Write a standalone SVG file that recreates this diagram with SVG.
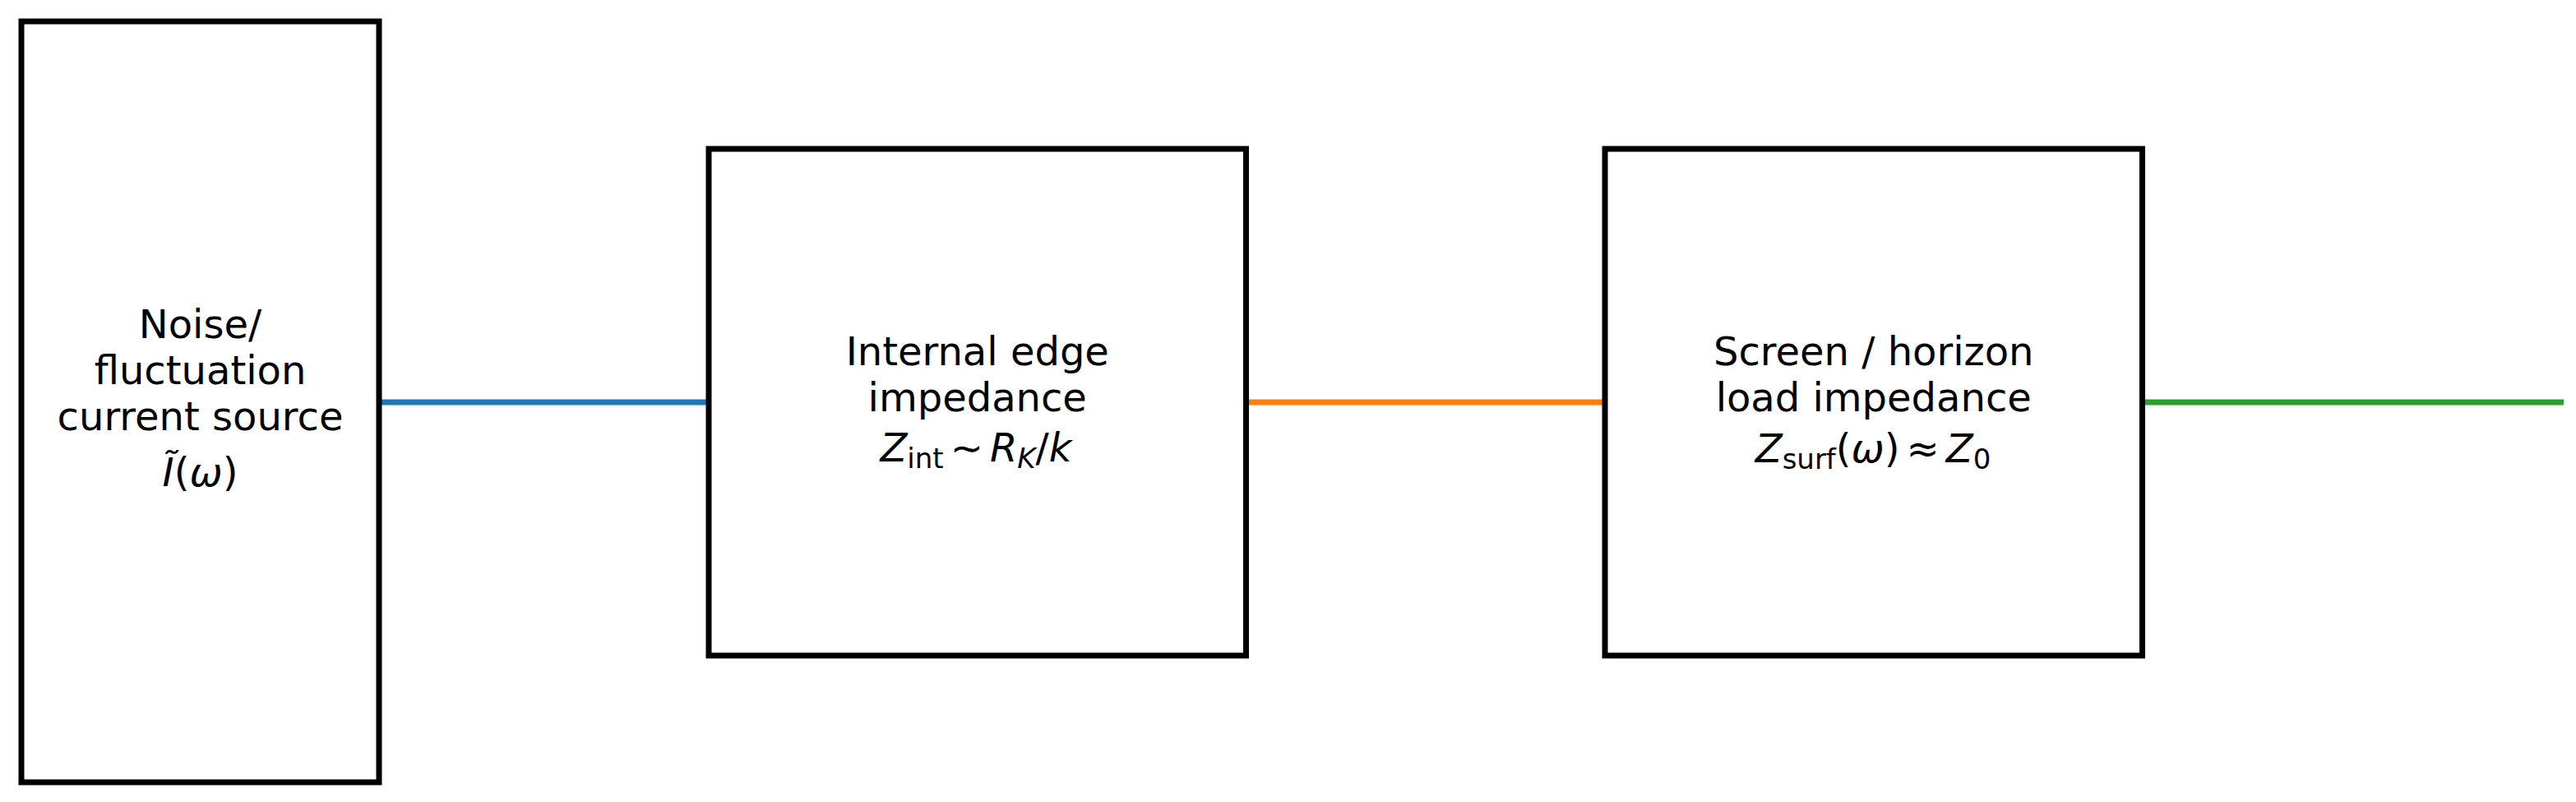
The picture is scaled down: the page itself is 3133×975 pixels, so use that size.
<svg xmlns="http://www.w3.org/2000/svg" width="3133" height="975" viewBox="0 0 3133 975">
<style>
.box{fill:#ffffff;stroke:#000000;stroke-width:7}
.lbl{font-family:"DejaVu Sans",sans-serif;font-size:48px;fill:#000000;text-anchor:middle}
.it{font-style:italic}
.sub{font-size:34px}
.conn{stroke-width:7;fill:none;stroke-linecap:butt}
</style>
<rect width="3133" height="975" fill="#ffffff"/>
<g id="connectors">
<line class="conn" x1="461" y1="489" x2="862" y2="489" stroke="#1f77b4"/>
<line class="conn" x1="1515.5" y1="489" x2="1952" y2="489" stroke="#ff7f0e"/>
<line class="conn" x1="2605.5" y1="489" x2="3118" y2="489" stroke="#2ca02c"/>
</g>
<g id="source">
<rect class="box" x="26" y="26" width="435" height="925"/>
<text class="lbl" x="243.5" y="411">Noise/</text>
<text class="lbl" x="243.5" y="467">fluctuation</text>
<text class="lbl" x="243.5" y="523">current source</text>
<text class="lbl" x="243.5" y="591"><tspan class="it">Ĩ</tspan>(<tspan class="it">ω</tspan>)</text>
</g>
<g id="internal">
<rect class="box" x="862" y="181" width="653.5" height="616"/>
<text class="lbl" x="1188.75" y="444">Internal edge</text>
<text class="lbl" x="1188.75" y="500">impedance</text>
<text class="lbl" x="1187" y="561"><tspan class="it">Z</tspan><tspan class="sub" dy="8">int</tspan><tspan dy="-8" dx="8">∼</tspan><tspan class="it" dx="8">R</tspan><tspan class="sub it" dy="8">K</tspan><tspan dy="-8">/</tspan><tspan class="it">k</tspan></text>
</g>
<g id="load">
<rect class="box" x="1952" y="181" width="653.5" height="616"/>
<text class="lbl" x="2278.75" y="444">Screen / horizon</text>
<text class="lbl" x="2278.75" y="500">load impedance</text>
<text class="lbl" x="2278" y="562"><tspan class="it">Z</tspan><tspan class="sub" dy="8">surf</tspan><tspan dy="-8">(</tspan><tspan class="it">ω</tspan>)<tspan dx="8">≈</tspan><tspan class="it" dx="8">Z</tspan><tspan class="sub" dy="8">0</tspan></text>
</g>
</svg>
